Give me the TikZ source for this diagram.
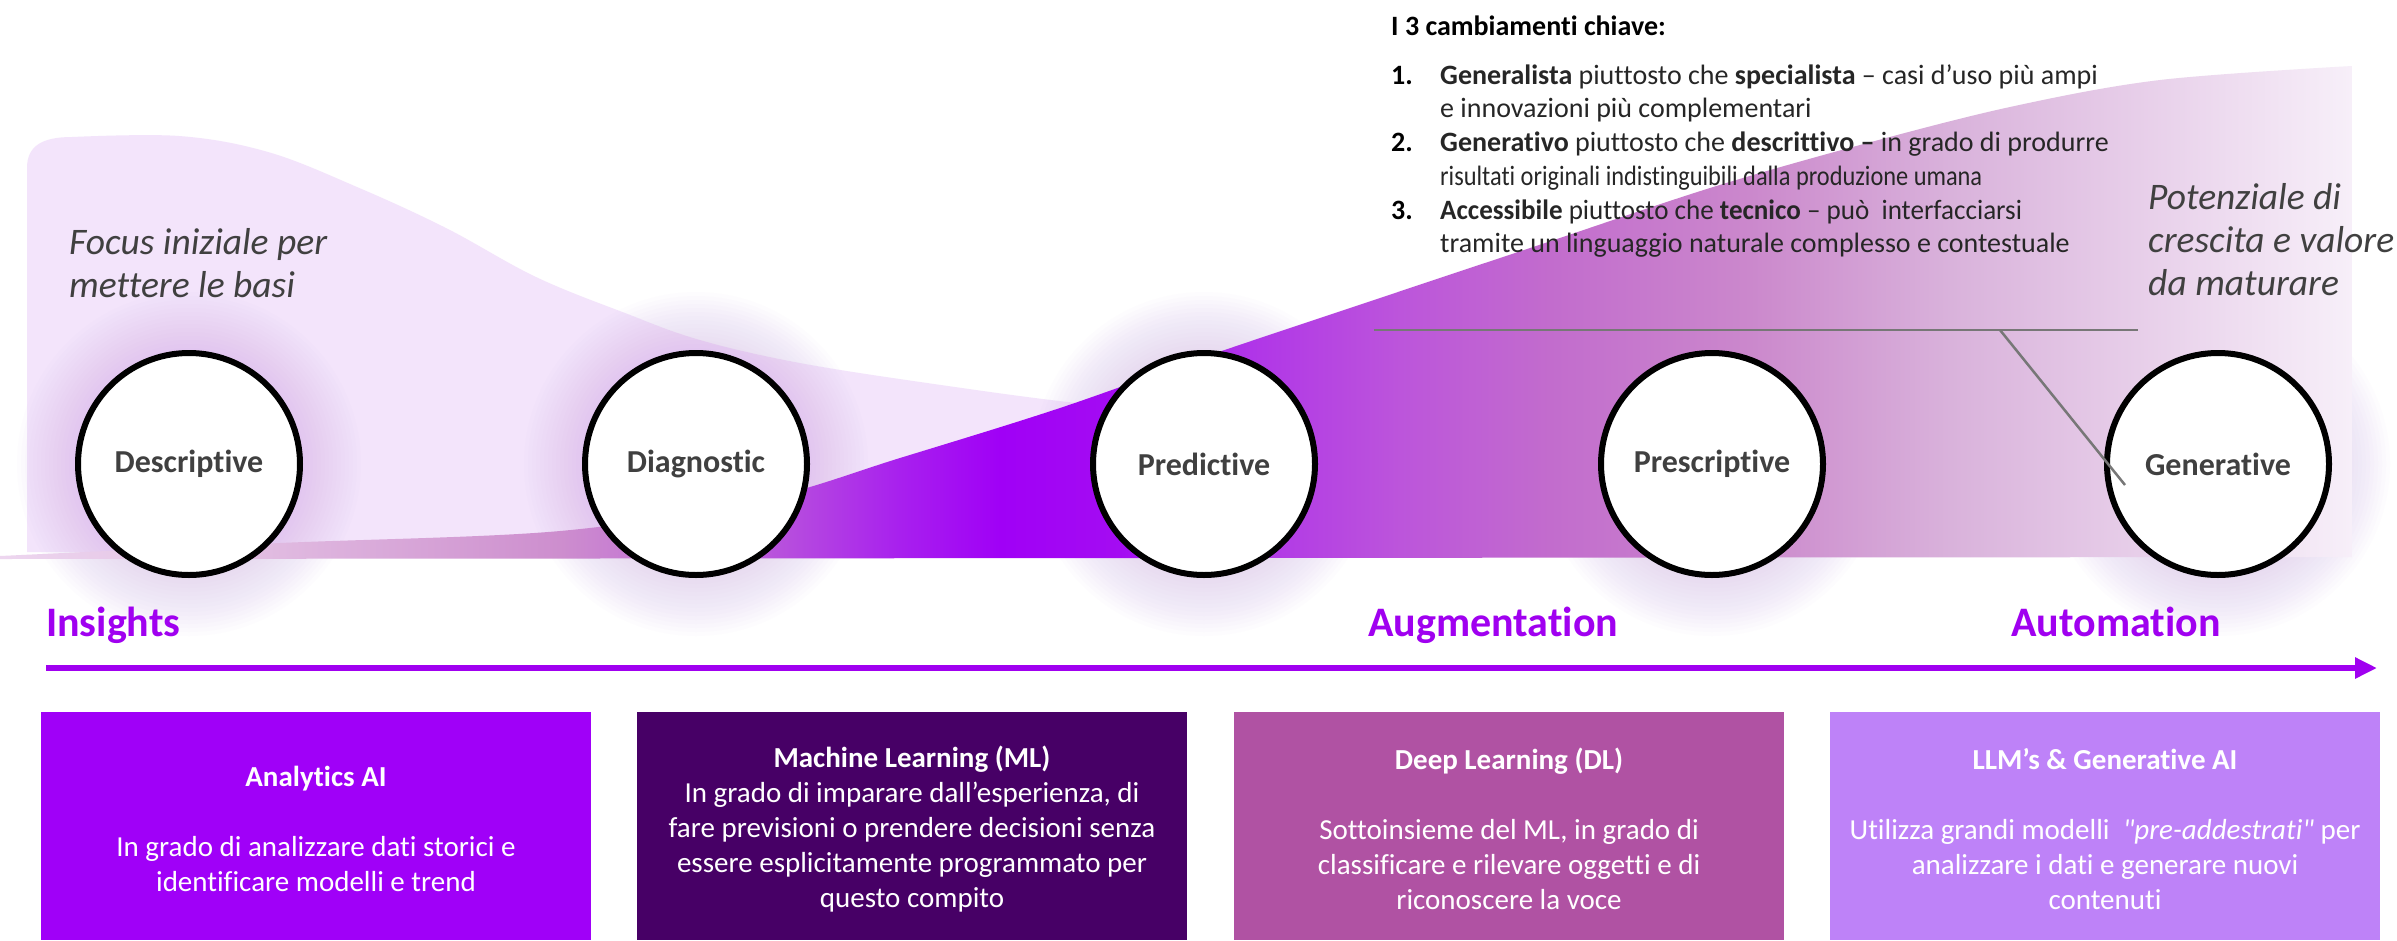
\documentclass[tikz,border=0pt]{standalone}
\usepackage{fontspec}
\usepackage{graphicx}
\setmainfont{Carlito}[Ligatures={TeX,NoCommon}]
\usetikzlibrary{arrows.meta}
\definecolor{txtgray}{HTML}{404040}
\definecolor{listtxt}{HTML}{262626}
\definecolor{violetmain}{HTML}{A000F0}
\definecolor{boxA}{HTML}{A000F8}
\definecolor{boxB}{HTML}{470066}
\definecolor{boxC}{HTML}{B052A3}
\definecolor{boxD}{HTML}{BE82F8}
\definecolor{lightbg}{HTML}{F3E4FB}
\definecolor{glowc}{HTML}{B070F0}
\definecolor{calloutgray}{HTML}{777777}
\definecolor{wA}{HTML}{EDD6EF}
\definecolor{wB}{HTML}{E2BEE2}
\definecolor{wC}{HTML}{CD8ECE}
\definecolor{wD}{HTML}{BA58DA}
\definecolor{wE}{HTML}{A820EE}
\definecolor{wF}{HTML}{A000F6}
\definecolor{wG}{HTML}{A40CF2}
\definecolor{wH}{HTML}{B035E8}
\definecolor{wI}{HTML}{BC55DB}
\definecolor{wJ}{HTML}{C26CCD}
\definecolor{wK}{HTML}{CB88CC}
\definecolor{wL}{HTML}{D9B2DB}
\definecolor{wM}{HTML}{E8D0EA}
\definecolor{wN}{HTML}{F7EFF9}
\pgfdeclarehorizontalshading{waveshade}{100bp}{color(0bp)=(wA); color(25bp)=(wA);
 color(30.31bp)=(wB); color(36.90bp)=(wC); color(41.16bp)=(wD); color(44.13bp)=(wE);
 color(46.26bp)=(wF); color(48.81bp)=(wG); color(51.57bp)=(wH); color(54.76bp)=(wI);
 color(57.95bp)=(wJ); color(62.20bp)=(wK); color(66.45bp)=(wL); color(70.71bp)=(wM);
 color(75bp)=(wN); color(100bp)=(wN)}
\begin{document}
\begin{tikzpicture}[x=1pt,y=-1pt,
  stage/.style={circle, draw=black, line width=6pt, fill=white, minimum size=222pt,
    inner sep=0pt, text=txtgray, font=\bfseries\fontsize{32}{38}\selectfont},
  phase/.style={anchor=base west, text=violetmain, inner sep=0pt,
    font=\bfseries\fontsize{42}{50}\selectfont},
  note/.style={anchor=base west, text=txtgray, inner sep=0pt,
    font=\itshape\fontsize{37.5}{44}\selectfont},
  listline/.style={anchor=base west, text=listtxt, inner sep=0pt,
    font=\fontsize{28}{34}\selectfont},
  listnum/.style={anchor=base west, text=black, inner sep=0pt,
    font=\bfseries\fontsize{28}{34}\selectfont},
  infobox/.style={rectangle, draw=none, minimum width=550pt, minimum height=228pt,
    inner sep=0pt},
  boxtext/.style={align=center, text=white, inner sep=0pt,
    font=\fontsize{29}{35}\selectfont},
  callout/.style={draw=calloutgray, line width=2.5pt},
  timeline/.style={draw=violetmain, line width=6pt,
    -{Triangle[length=22pt,width=20pt]}}
]
\useasboundingbox (0,0) rectangle (2397,940);
\fill[white] (0,0) rectangle (2397,940);

% circle centres
\coordinate (cA) at (189,464);
\coordinate (cB) at (696,464);
\coordinate (cC) at (1204,464);
\coordinate (cD) at (1712,464);
\coordinate (cE) at (2218,464);

% light background shape
\fill[lightbg] (27,552) -- (27,168) .. controls (27,146) and (42,137) .. (72,137)
  -- plot[smooth, tension=0.6] coordinates {(72,137) (179,136) (268,152) (357,187) (446,228)
  (536,277) (625,313) (700,340) (800,363) (934,384) (1077,403) (1180,410)}
  -- (1180,552) -- cycle;

% glows
\foreach \c in {cA,cB,cC,cD,cE}{
  \foreach \r in {116,120,...,172}{
    \fill[glowc, opacity=0.014] (\c) circle[radius=\r pt];
  }
}

% main wave
\shade[shading=waveshade] (0,559) -- plot[smooth, tension=0.55] coordinates {(0,556) (280,543)
  (560,531) (760,500) (900,458) (1060,408) (1210,355) (1380,298) (1545,243) (1710,188)
  (1860,145) (2010,107) (2160,80) (2352,66)} -- (2352,557) -- cycle;

% stages
\node[stage] (desc) at (cA) {Descriptive};
\node[stage] (diag) at (cB) {Diagnostic};
\node[stage] (pred) at (cC) {Predictive};
\node[stage] (pres) at (cD) {Prescriptive};
\node[stage] (gene) at (cE) {Generative};

% callout line
\coordinate (gL) at (1374,330);
\coordinate (gR) at (2138,330);
\coordinate (gK) at (2000,330);
\coordinate (gT) at (2125,485);
\draw[callout] (gL) -- (gR);
\draw[callout] (gK) -- (gT);

% notes
\node[note] (focus1) at (69,254) {Focus iniziale per};
\node[note] (focus2) at (69,297) {mettere le basi};
\node[note] (pot1) at (2148,209) {Potenziale di};
\node[note] (pot2) at (2148,252) {crescita e valore};
\node[note] (pot3) at (2148,295) {da maturare};

% list
\node[listnum] (ltitle) at (1391,35) {I 3 cambiamenti chiave:};
\node[listnum] (n1) at (1391,84) {1.};
\node[listnum] (n2) at (1391,151) {2.};
\node[listnum] (n3) at (1391,219) {3.};
\node[listline] (l1) at (1440,84) {\textbf{Generalista} piuttosto che \textbf{specialista} – casi d’uso più ampi};
\node[listline] (l2) at (1440,117) {e innovazioni più complementari};
\node[listline] (l3) at (1440,151) {\textbf{Generativo} piuttosto che \textbf{descrittivo –} in grado di produrre};
\node[listline] (l4) at (1440,185) {\scalebox{0.87}[1]{risultati originali indistinguibili dalla produzione umana}};
\node[listline] (l5) at (1440,219) {\scalebox{0.967}[1]{\textbf{Accessibile} piuttosto che \textbf{tecnico} – può\ \ interfacciarsi}};
\node[listline] (l6) at (1440,252) {tramite un linguaggio naturale complesso e contestuale};

% phases
\node[phase] (ins) at (46,636) {Insights};
\node[phase] (aug) at (1368,636) {Augmentation};
\node[phase] (aut) at (2011,636) {Automation};

% timeline arrow
\coordinate (tS) at (46,668);
\coordinate (tE) at (2377,668);
\draw[timeline] (tS) -- (tE);

% boxes
\node[infobox, fill=boxA] (bA) at (316,826) {};
\node[infobox, fill=boxB] (bB) at (912,826) {};
\node[infobox, fill=boxC] (bC) at (1509,826) {};
\node[infobox, fill=boxD] (bD) at (2105,826) {};

\node[boxtext] (tA) at (316,829) {\textbf{Analytics AI}\\[35pt]In grado di analizzare dati storici e\\identificare modelli e trend};
\node[boxtext] (tB) at (912,829) {\textbf{Machine Learning (ML)}\\In grado di imparare dall’esperienza, di\\fare previsioni o prendere decisioni senza\\essere esplicitamente programmato per\\questo compito};
\node[boxtext] (tC) at (1509,829) {\textbf{Deep Learning (DL)}\\[35pt]Sottoinsieme del ML, in grado di\\classificare e rilevare oggetti e di\\riconoscere la voce};
\node[boxtext] (tD) at (2105,829) {\textbf{LLM’s \& Generative AI}\\[35pt]Utilizza grandi modelli\ \ \textit{\textquotedbl pre-addestrati\textquotedbl}\ per\\analizzare i dati e generare nuovi\\contenuti};
\end{tikzpicture}
\end{document}
